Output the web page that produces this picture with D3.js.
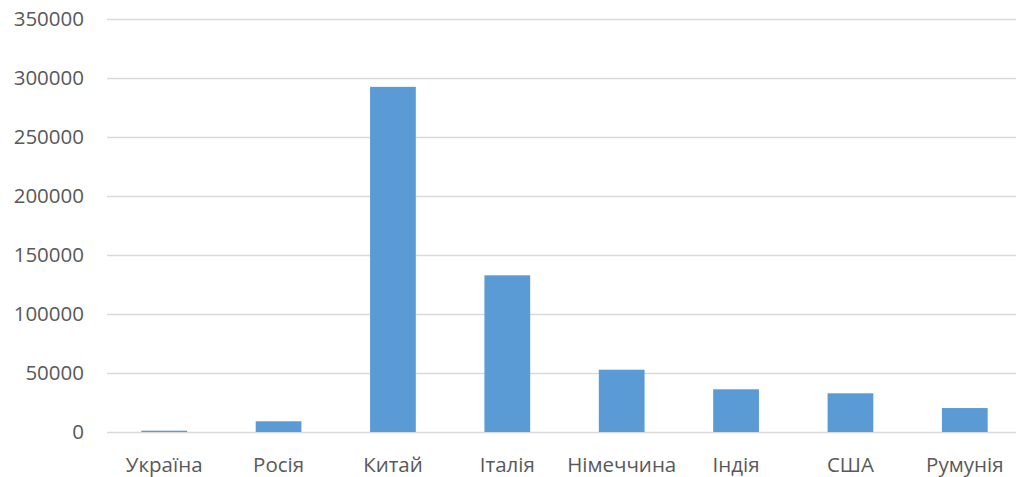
<!DOCTYPE html>
<html>
<head>
<meta charset="utf-8" />
<title>Chart</title>
<script src="https://cdn.jsdelivr.net/npm/d3@7"></script>
<style>
  body { margin: 0; background: #fff; }
  svg text { font-family: "Open Sans", "Noto Sans", sans-serif; fill: #595959; }
</style>
</head>
<body>
<div id="chart"></div>
<script>
  var categories = ["Україна", "Росія", "Китай", "Італія", "Німеччина", "Індія", "США", "Румунія"];
  var values = [1100, 9100, 292500, 132800, 52800, 36200, 32800, 20300];
  var yTicks = [0, 50000, 100000, 150000, 200000, 250000, 300000, 350000];

  var width = 1016, height = 477;
  var plot = { left: 107, right: 1022, top: 19, bottom: 432 };

  var svg = d3.select("#chart").append("svg")
      .attr("width", width)
      .attr("height", height);

  var x = d3.scaleBand()
      .domain(categories)
      .range([plot.left, plot.right])
      .paddingInner(0.6)
      .paddingOuter(0.3);

  var y = d3.scaleLinear()
      .domain([0, 350000])
      .range([plot.bottom, plot.top]);

  // gridlines
  svg.append("g")
      .selectAll("line")
      .data(yTicks)
      .enter().append("line")
      .attr("x1", plot.left)
      .attr("x2", plot.right)
      .attr("y1", function (d) { return Math.round(y(d)) + 0.5; })
      .attr("y2", function (d) { return Math.round(y(d)) + 0.5; })
      .attr("stroke", "#d9d9d9")
      .attr("stroke-width", 1.5);

  // y labels
  svg.append("g")
      .selectAll("text")
      .data(yTicks)
      .enter().append("text")
      .attr("x", 84)
      .attr("y", function (d) { return y(d); })
      .attr("dy", "0.35em")
      .attr("text-anchor", "end")
      .style("font-size", "20.5px")
      .text(function (d) { return d; });

  // bars
  svg.append("g")
      .selectAll("rect")
      .data(values)
      .enter().append("rect")
      .attr("x", function (d, i) { return x(categories[i]); })
      .attr("width", x.bandwidth())
      .attr("y", function (d) { return y(d); })
      .attr("height", function (d) { return y(0) - y(d); })
      .attr("fill", "#5b9bd5");

  // x labels
  svg.append("g")
      .selectAll("text")
      .data(categories)
      .enter().append("text")
      .attr("x", function (d) { return x(d) + x.bandwidth() / 2; })
      .attr("y", 472)
      .attr("text-anchor", "middle")
      .style("font-size", "20.5px")
      .text(function (d) { return d; });
</script>
</body>
</html>
